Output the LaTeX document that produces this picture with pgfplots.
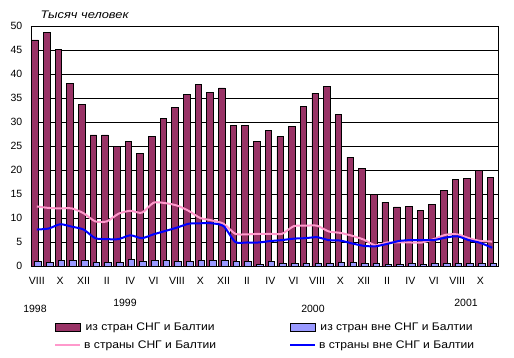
\documentclass[border=0pt]{standalone}
\usepackage{pgfplots}
\pgfplotsset{compat=1.18}
\usepackage{pgfplotstable}
\usepackage{graphicx}
\usepackage{fontspec}
\setmainfont{Liberation Sans}
\definecolor{plum}{HTML}{993366}
\definecolor{lblue}{HTML}{9999FF}
\definecolor{lpink}{HTML}{FF99CC}
\definecolor{dblue}{HTML}{0000FF}
\newcommand{\W}[1]{\scalebox{1.1}[1]{#1}}
\pgfplotstableread{
x d l p b
0 47.1 1.0 12.4 7.6
1 48.75 0.8 12.1 7.8
2 45.2 1.25 12.0 8.7
3 38.1 1.1 12.0 8.2
4 33.75 1.25 11.0 7.6
5 27.3 0.8 9.3 5.8
6 27.3 0.8 9.3 5.6
7 25.0 0.8 10.9 5.6
8 26.0 1.45 11.5 6.4
9 23.5 1.0 11.1 5.8
10 26.9 1.25 13.2 6.6
11 30.8 1.25 13.1 7.3
12 33.1 1.0 12.6 8.0
13 35.8 1.0 11.5 8.8
14 37.9 1.25 10.0 8.9
15 36.25 1.25 9.5 8.9
16 37.1 1.25 8.8 8.3
17 29.2 1.0 6.7 5.0
18 29.2 1.0 6.6 4.9
19 26.0 0.4 6.7 4.9
20 28.3 1.0 6.7 5.2
21 26.9 0.6 6.7 5.4
22 29.0 0.6 8.3 5.7
23 33.3 0.6 8.4 5.8
24 36.0 0.6 8.4 6.0
25 37.5 0.6 7.2 5.4
26 31.5 0.8 6.9 5.3
27 22.7 0.8 6.3 4.7
28 20.4 0.6 5.5 4.2
29 15.0 0.6 4.3 4.1
30 13.3 0.4 4.9 4.6
31 12.3 0.4 4.9 5.2
32 12.5 0.6 4.9 5.4
33 11.5 0.4 4.9 5.4
34 12.9 0.6 5.6 5.4
35 15.8 0.6 6.5 5.9
36 18.1 0.6 6.6 6.2
37 18.3 0.6 5.8 5.4
38 20.0 0.6 5.2 4.8
39 18.5 0.6 5.1 3.8
}\data
\begin{document}
\fontsize{10.5pt}{12pt}\selectfont
\begin{tikzpicture}
\useasboundingbox (-31pt,-91pt) rectangle (483pt,266pt);
\begin{axis}[
  at={(0pt,0pt)}, anchor=south west,
  scale only axis, width=467pt, height=240pt,
  xmin=-0.5, xmax=39.5, ymin=0, ymax=50,
  ytick={0,5,...,50},
  xtick={0,2,...,38},
  xticklabels={VIII,X,XII,II,IV,VI,VIII,X,XII,II,IV,VI,VIII,X,XII,II,IV,VI,VIII,X},
  major tick length=0pt,
  ymajorgrids, grid style={black, line width=0.8pt},
  axis line style={black, line width=0.8pt},
  tick label style={font=\fontsize{10.5pt}{12pt}\selectfont},
  /pgf/number format/assume math mode=true,
  yticklabel style={xshift=-5pt},
  xticklabel style={yshift=-8pt},
  clip=false,
  legend columns=2,
  legend style={at={(0,0)}, anchor=north west, xshift=20pt, yshift=-53pt,
    draw=none, fill=none, font=\fontsize{11pt}{13pt}\selectfont,
    row sep=4pt,
    /tikz/every odd column/.append style={column sep=1pt},
    /tikz/every even column/.append style={column sep=71pt}},
]
\addplot[ybar, bar width=0.565, bar shift=-0.155, fill=plum, draw=black, line width=0.8pt,
  legend image code/.code={\draw[fill=plum,draw=black,line width=0.8pt] (0pt,-3.5pt) rectangle (25pt,4pt);}]
  table[x=x,y=d]{\data};
\addlegendentry{\W{из стран СНГ и Балтии}}
\addplot[ybar, bar width=0.565, bar shift=0.1, fill=lblue, draw=black, line width=0.8pt,
  legend image code/.code={\draw[fill=lblue,draw=black,line width=0.8pt] (0pt,-3.5pt) rectangle (25pt,4pt);}]
  table[x=x,y=l]{\data};
\addlegendentry{\W{из стран вне СНГ и Балтии}}
\addplot[lpink, line width=2pt, smooth, tension=0.4, no marks,
  legend image code/.code={\draw[lpink,line width=2pt] (0pt,0pt) -- (25pt,0pt);}]
  table[x=x,y=p]{\data};
\addlegendentry{\W{в страны СНГ и Балтии}}
\addplot[dblue, line width=2pt, smooth, tension=0.4, no marks,
  legend image code/.code={\draw[dblue,line width=2pt] (0pt,0pt) -- (25pt,0pt);}]
  table[x=x,y=b]{\data};
\addlegendentry{\W{в страны вне СНГ и Балтии}}
\node[anchor=base west, font=\itshape\fontsize{11pt}{13pt}\selectfont] at (rel axis cs:0,1) [xshift=6pt, yshift=8pt] {\scalebox{1.17}[1]{Тысяч человек}};
\node at (axis cs:-0.16,-8.96) {1998};
\node at (axis cs:7.55,-7.7) {1999};
\node at (axis cs:23.65,-8.96) {2000};
\node at (axis cs:36.76,-7.7) {2001};
\end{axis}
\end{tikzpicture}
\end{document}
